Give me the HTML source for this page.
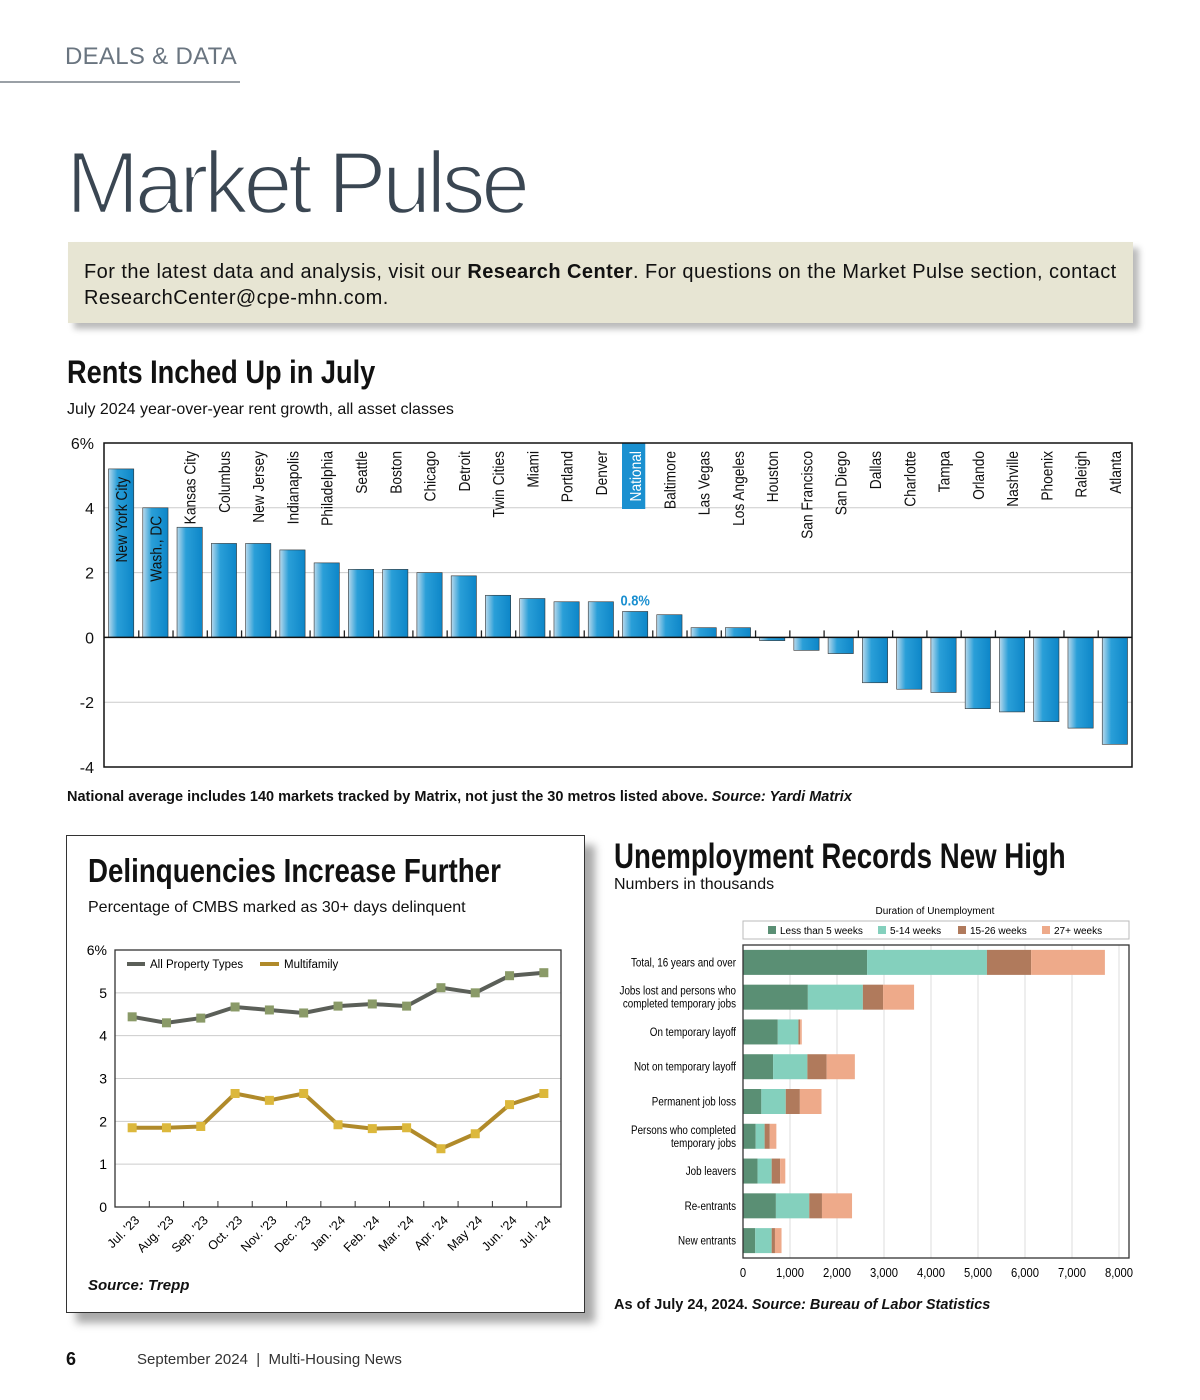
<!DOCTYPE html>
<html><head><meta charset="utf-8"><style>
body{margin:0;width:1200px;height:1400px;background:#fff;position:relative;font-family:"Liberation Sans",sans-serif;overflow:hidden;color:#111}
.a{position:absolute}
.cond{font-weight:bold;transform-origin:0 0;white-space:nowrap}
</style></head><body>
<div class="a" style="left:65px;top:43px;font-size:24px;color:#6a7580;letter-spacing:0.3px">DEALS &amp; DATA</div>
<div class="a" style="left:0;top:81px;width:240px;height:2px;background:#9aa0a6"></div>
<div class="a" style="left:66px;top:132px;font-size:88px;color:#3a4652;letter-spacing:-4.5px;-webkit-text-stroke:2.5px #fff;paint-order:fill stroke">Market Pulse</div>
<div class="a" style="left:68px;top:242px;width:1065px;height:81px;background:#e7e5d3;box-shadow:6px 6px 6px #bbb"></div>
<div class="a" style="left:84px;top:259px;width:1045px;font-size:20px;line-height:26px;color:#111;letter-spacing:0.45px">For the latest data and analysis, visit our <b>Research Center</b>. For questions on the Market Pulse section, contact ResearchCenter@cpe-mhn.com.</div>

<div class="a cond" style="left:67px;top:354px;font-size:32px;transform:scaleX(0.85)">Rents Inched Up in July</div>
<div class="a" style="left:67px;top:401px;font-size:16px">July 2024 year-over-year rent growth, all asset classes</div>
<svg class="a" id="rents" style="left:0;top:430px" width="1200" height="350"></svg>
<div class="a" style="left:67px;top:789px;font-size:14.5px;font-weight:bold">National average includes 140 markets tracked by Matrix, not just the 30 metros listed above. <i>Source: Yardi Matrix</i></div>

<div class="a" style="left:66px;top:835px;width:517px;height:476px;border:1.5px solid #333;box-shadow:10px 10px 8px #aaa;background:#fff"></div>
<div class="a cond" style="left:88px;top:852px;font-size:33px;transform:scaleX(0.84)">Delinquencies Increase Further</div>
<div class="a" style="left:88px;top:899px;font-size:16px">Percentage of CMBS marked as 30+ days delinquent</div>
<svg class="a" id="delq" style="left:0;top:930px" width="590" height="340"></svg>
<div class="a" style="left:88px;top:1277px;font-size:15px;font-weight:bold;font-style:italic">Source: Trepp</div>

<div class="a cond" style="left:614px;top:837px;font-size:35px;transform:scaleX(0.79)">Unemployment Records New High</div>
<div class="a" style="left:614px;top:876px;font-size:16px">Numbers in thousands</div>
<svg class="a" id="unemp" style="left:600px;top:900px" width="560" height="390"></svg>
<div class="a" style="left:614px;top:1297px;font-size:14.5px;font-weight:bold">As of July 24, 2024. <i>Source: Bureau of Labor Statistics</i></div>

<div class="a" style="left:66px;top:1349px;font-size:18px;font-weight:bold">6</div>
<div class="a" style="left:137px;top:1351px;font-size:15px;color:#333">September 2024 &nbsp;|&nbsp; Multi-Housing News</div>

<script>
const NS="http://www.w3.org/2000/svg";
function mk(p,t,a,txt){const e=document.createElementNS(NS,t);for(const k in a)e.setAttribute(k,a[k]);if(txt!=null)e.textContent=txt;p.appendChild(e);return e;}

// ---- Rents chart ----
const rentCities=["New York City","Wash., DC","Kansas City","Columbus","New Jersey","Indianapolis","Philadelphia","Seattle","Boston","Chicago","Detroit","Twin Cities","Miami","Portland","Denver","National","Baltimore","Las Vegas","Los Angeles","Houston","San Francisco","San Diego","Dallas","Charlotte","Tampa","Orlando","Nashville","Phoenix","Raleigh","Atlanta"];
const rentValues=[5.2,4.0,3.4,2.9,2.9,2.7,2.3,2.1,2.1,2.0,1.9,1.3,1.2,1.1,1.1,0.8,0.7,0.3,0.3,-0.1,-0.4,-0.5,-1.4,-1.6,-1.7,-2.2,-2.3,-2.6,-2.8,-3.3];
const rentTicks=[6,4,2,0,-2,-4];
const rentTickLabels=["6%","4","2","0","-2","-4"];
(function(){
 const s=document.getElementById("rents");
 const L=104,R=1132,T=13,B=337;
 const y=v=>T+(6-v)/10*(B-T);
 const bw=(R-L)/rentCities.length;
 const x=i=>L+i*bw;
 const defs=mk(s,"defs",{});
 const g=mk(defs,"linearGradient",{id:"bg",x1:0,x2:1,y1:0,y2:0});
 mk(g,"stop",{offset:"0","stop-color":"#b9d9ec"});mk(g,"stop",{offset:"0.35","stop-color":"#2a9fd8"});mk(g,"stop",{offset:"1","stop-color":"#0d86c8"});
 rentTicks.forEach((t,i)=>{
  if(t!==6&&t!==-4&&t!==0){const l=mk(s,"line",{x1:L,x2:R,y1:y(t),y2:y(t),stroke:"#ccc","stroke-width":1});}
  const tx=mk(s,"text",{x:94,y:y(t)+6,"text-anchor":"end","font-size":16,fill:"#111"},rentTickLabels[i]);
  
 });
 rentValues.forEach((v,i)=>{
  const bx=x(i)+4.5,w=bw-9;
  const r=mk(s,"rect",{x:bx,y:Math.min(y(v),y(0)),width:w,height:Math.abs(y(v)-y(0)),fill:"url(#bg)",stroke:"#333","stroke-width":0.6});
  
  
  if(i>0){mk(s,"line",{x1:x(i)+0.5,x2:x(i)+0.5,y1:y(0)-7,y2:y(0),stroke:"#222","stroke-width":1.3});}
  const cx=x(i)+bw/2;
  const nat=rentCities[i]==="National";
  if(nat){mk(s,"rect",{x:x(i)+4,y:T,width:bw-11,height:66,fill:"#1a90d0"});}
  const inside=v>4.5||(i===1);
  let ty=T+8;
  if(inside) ty=y(v)+8;
  const lab=mk(s,"text",{transform:`translate(${cx+6},${ty}) rotate(-90) scale(0.86,1)`,"text-anchor":"end","font-size":16,fill:nat?"#fff":"#111"},rentCities[i]);
  
  if(nat){const vl=mk(s,"text",{transform:`translate(${cx},${y(v)-6}) scale(0.86,1)`,"text-anchor":"middle","font-size":15,"font-weight":"bold",fill:"#1a8fd0"},v.toFixed(1)+"%");}
 });
 mk(s,"line",{x1:L,x2:R,y1:y(0),y2:y(0),stroke:"#111","stroke-width":1.5});
 mk(s,"rect",{x:L,y:T,width:R-L,height:B-T,fill:"none",stroke:"#111","stroke-width":1.5});
})();

// ---- Delinquency chart ----
const delqMonths=["Jul. '23","Aug. '23","Sep. '23","Oct. '23","Nov. '23","Dec. '23","Jan. '24","Feb. '24","Mar. '24","Apr. '24","May '24","Jun. '24","Jul. '24"];
const delqAll=[4.44,4.30,4.41,4.67,4.60,4.53,4.69,4.74,4.69,5.12,5.00,5.40,5.47];
const delqMulti=[1.85,1.85,1.88,2.65,2.49,2.65,1.92,1.83,1.85,1.36,1.71,2.39,2.65];
const delqTicks=[0,1,2,3,4,5,6];
(function(){
 const s=document.getElementById("delq");
 const L=115,R=561,T=20,B=277;
 const y=v=>B-v/6*(B-T);
 const step=(R-L)/13;
 const x=i=>L+step*(i+0.5);
 delqTicks.forEach(t=>{
  if(t>0&&t<6){const l=mk(s,"line",{x1:L,x2:R,y1:y(t),y2:y(t),stroke:"#ccc"});}
  const tx=mk(s,"text",{x:107,y:y(t)+5,"text-anchor":"end","font-size":14},t===6?"6%":String(t));
  
 });
 mk(s,"rect",{x:L,y:T,width:R-L,height:B-T,fill:"none",stroke:"#333","stroke-width":1.3});
 delqMonths.forEach((m,i)=>{
  if(i>0) mk(s,"line",{x1:L+step*i,x2:L+step*i,y1:B-6,y2:B,stroke:"#333"});
  const tx=mk(s,"text",{transform:`translate(${x(i)+8},${B+14}) rotate(-45)`,"text-anchor":"end","font-size":12.5},m);
  
 });
 function series(vals,lc,mc,name){
  const pl=mk(s,"polyline",{points:vals.map((v,i)=>x(i)+","+y(v)).join(" "),fill:"none",stroke:lc,"stroke-width":4});
  
  vals.forEach((v,i)=>{const r=mk(s,"rect",{x:x(i)-4.5,y:y(v)-4.5,width:9,height:9,fill:mc});});
 }
 series(delqAll,"#5b5f58","#8a9a68","all-property");
 series(delqMulti,"#b08a2a","#dcb83c","multifamily");
 mk(s,"line",{x1:127,x2:145,y1:34,y2:34,stroke:"#5b5f58","stroke-width":4});
 let t=mk(s,"text",{x:150,y:38,"font-size":11.5},"All Property Types");
 mk(s,"line",{x1:260,x2:279,y1:34,y2:34,stroke:"#b08a2a","stroke-width":4});
 t=mk(s,"text",{x:284,y:38,"font-size":11.5},"Multifamily");
})();

// ---- Unemployment chart ----
const unCats=[["Total, 16 years and over"],["Jobs lost and persons who","completed temporary jobs"],["On temporary layoff"],["Not on temporary layoff"],["Permanent job loss"],["Persons who completed","temporary jobs"],["Job leavers"],["Re-entrants"],["New entrants"]];
const unLess5=[2640,1380,740,640,390,270,310,700,260];
const un5to14=[2550,1170,440,730,520,190,300,710,350];
const un15to26=[940,430,35,410,300,110,180,270,70];
const un27plus=[1570,660,35,600,460,140,110,640,140];
const unSeriesNames=["Less than 5 weeks","5-14 weeks","15-26 weeks","27+ weeks"];
const unTicks=[0,1000,2000,3000,4000,5000,6000,7000,8000];
(function(){
 const s=document.getElementById("unemp");
 const L=143,R=529,T=45,B=358;
 const xs=v=>L+v/8000*(R-L-10);
 const cols=["#5a8f74","#84d0bd","#b07a5c","#eeaa8a"];
 const series=[unLess5,un5to14,un15to26,un27plus];
 let t=mk(s,"text",{x:335,y:14,"text-anchor":"middle","font-size":10},"Duration of Unemployment");
 mk(s,"rect",{x:143,y:21,width:386,height:18,fill:"#fff",stroke:"#bbb"});
 const lx=[168,278,358,442];
 unSeriesNames.forEach((n,i)=>{
  mk(s,"rect",{x:lx[i],y:26,width:8,height:8,fill:cols[i]});
  const tt=mk(s,"text",{x:lx[i]+12,y:34,"font-size":10},n);
 });
 unTicks.forEach(v=>{
  if(v>0){const l=mk(s,"line",{x1:xs(v),x2:xs(v),y1:T,y2:B,stroke:"#ddd"});}
  const tt=mk(s,"text",{transform:`translate(${xs(v)},${B+19}) scale(0.9,1)`,"text-anchor":"middle","font-size":12.5},v.toLocaleString("en-US"));
  
 });
 const bh=(B-T)/unCats.length;
 unCats.forEach((c,i)=>{
  const cy=T+bh*(i+0.5);
  let acc=0;
  series.forEach((arr,k)=>{
   const r=mk(s,"rect",{x:xs(acc),y:cy-12.5,width:xs(acc+arr[i])-xs(acc),height:25,fill:cols[k]});
   
   acc+=arr[i];
  });
  c.forEach((ln,j)=>{
   const tt=mk(s,"text",{transform:`translate(136,${cy+4+(j-(c.length-1)/2)*13}) scale(0.82,1)`,"text-anchor":"end","font-size":12},ln);
   
  });
 });
 mk(s,"rect",{x:L,y:T,width:R-L,height:B-T,fill:"none",stroke:"#333","stroke-width":1.3});
})();
</script>
</body></html>
